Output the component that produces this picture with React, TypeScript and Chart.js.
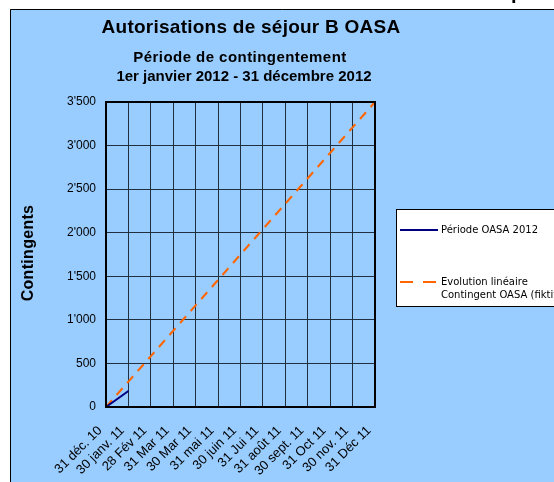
import { useEffect, useRef } from 'react';
import { Chart, registerables } from 'chart.js';
Chart.register(...registerables);

const categories = ['31 déc. 10', '30 janv. 11', '28 Fév 11', '31 Mar 11', '30 Mar 11', '31 mai 11', '30 juin 11', '31 Jui 11', '31 août 11', '30 sept. 11', '31 Oct 11', '30 nov. 11', '31 Déc 11'];
const periodeOASA = [0, 184];
const evolutionLineaire = [0, 292, 583, 875, 1167, 1458, 1750, 2042, 2333, 2625, 2917, 3208, 3500];
const yMin = 0;
const yMax = 3500;
const yStep = 500;
const mainTitle = 'Autorisations de séjour B OASA';
const subTitleLines = ['Période de contingentement', '1er janvier 2012 - 31 décembre 2012'];
const yAxisTitle = 'Contingents';
const seriesNames = ['Période OASA 2012', 'Evolution linéaire\nContingent OASA (fiktiv)'];
const cornerText = 'p';

const BG = '#99CCFF';
const FONT = '"Liberation Sans", Arial, sans-serif';

const fmt = (v: number) => {
  const s = String(Math.round(v));
  return s.length > 3 ? s.slice(0, -3) + "'" + s.slice(-3) : s;
};

const framePlugin = {
  id: 'frame',
  beforeDraw(chart: any) {
    const ctx = chart.ctx;
    ctx.save();
    ctx.fillStyle = '#ffffff';
    ctx.fillRect(0, 0, chart.width, chart.height);
    ctx.fillStyle = BG;
    ctx.fillRect(10, 9, chart.width, chart.height);
    ctx.strokeStyle = '#000';
    ctx.lineWidth = 1;
    ctx.beginPath();
    ctx.moveTo(10.5, chart.height);
    ctx.lineTo(10.5, 9.5);
    ctx.lineTo(chart.width, 9.5);
    ctx.stroke();
    ctx.restore();
  },
  afterDraw(chart: any) {
    const ctx = chart.ctx;
    const a = chart.chartArea;
    ctx.save();
    // plot border
    ctx.strokeStyle = '#000';
    ctx.lineWidth = 2;
    ctx.strokeRect(a.left, a.top, a.right - a.left, a.bottom - a.top);
    // titles
    ctx.fillStyle = '#000';
    ctx.textAlign = 'center';
    ctx.textBaseline = 'alphabetic';
    ctx.letterSpacing = '0.25px';
    ctx.font = `bold 19px ${FONT}`;
    ctx.fillText(mainTitle, 251, 33);
    ctx.font = `bold 15px ${FONT}`;
    ctx.letterSpacing = '0.45px';
    ctx.fillText(subTitleLines[0], 240, 62);
    ctx.letterSpacing = '0px';
    ctx.fillText(subTitleLines[1], 244, 81);
    // y title
    ctx.save();
    ctx.letterSpacing = '0.3px';
    ctx.translate(32.5, 253);
    ctx.rotate(-Math.PI / 2);
    ctx.font = `bold 16px ${FONT}`;
    ctx.fillText(yAxisTitle, 0, 0);
    ctx.restore();
    ctx.letterSpacing = '0px';
    // corner text
    ctx.textAlign = 'left';
    ctx.font = `bold 20px ${FONT}`;
    ctx.fillText(cornerText, 511, -1);
    // legend
    ctx.fillStyle = '#fff';
    ctx.fillRect(396, 209, 200, 97);
    ctx.strokeStyle = '#000';
    ctx.lineWidth = 1;
    ctx.strokeRect(396.5, 209.5, 200, 97);
    ctx.font = `10px "DejaVu Sans", sans-serif`;
    ctx.fillStyle = '#000';
    ctx.textBaseline = 'middle';
    ctx.strokeStyle = '#000080';
    ctx.lineWidth = 2;
    ctx.beginPath();
    ctx.moveTo(400, 230);
    ctx.lineTo(438, 230);
    ctx.stroke();
    ctx.fillText(seriesNames[0], 441, 230);
    ctx.strokeStyle = '#FF6600';
    ctx.setLineDash([13, 10]);
    ctx.beginPath();
    ctx.moveTo(400, 282);
    ctx.lineTo(438, 282);
    ctx.stroke();
    ctx.setLineDash([]);
    const lines = seriesNames[1].split('\n');
    ctx.fillText(lines[0], 441, 282);
    ctx.fillText(lines[1], 441, 295);
    ctx.restore();
  },
};

export default function App() {
  const ref = useRef<HTMLCanvasElement>(null);
  useEffect(() => {
    const chart = new Chart(ref.current!, {
      type: 'line',
      data: {
        labels: categories,
        datasets: [
          {
            label: seriesNames[0],
            data: periodeOASA,
            borderColor: '#000080',
            borderWidth: 2,
            pointRadius: 0,
            tension: 0,
          },
          {
            label: seriesNames[1],
            data: evolutionLineaire,
            borderColor: '#FF6600',
            borderWidth: 2,
            borderDash: [9, 7],
            pointRadius: 0,
            tension: 0,
          },
        ],
      },
      options: {
        responsive: false,
        animation: false,
        devicePixelRatio: 1,
        layout: { padding: { left: 0, top: 102, right: 179, bottom: 0 } },
        plugins: { legend: { display: false }, title: { display: false }, tooltip: { enabled: false } },
        scales: {
          x: {
            type: 'category',
            offset: false,
            afterFit: (s: any) => { s.height = 75; },
            grid: { color: '#1f2f40', lineWidth: 1, drawTicks: false },
            border: { display: true, color: '#000', width: 2 },
            ticks: {
              autoSkip: false,
              minRotation: 45,
              maxRotation: 45,
              padding: 16,
              labelOffset: -6,
              color: '#000',
              font: { family: FONT, size: 13 },
            },
          },
          y: {
            min: yMin,
            max: yMax,
            afterFit: (s: any) => { s.width = 106; },
            grid: { color: '#1f2f40', lineWidth: 1, drawTicks: false },
            border: { display: true, color: '#000', width: 2 },
            ticks: {
              stepSize: yStep,
              padding: 10,
              color: '#000',
              font: { family: FONT, size: 12 },
              callback: (v: any) => fmt(Number(v)),
            },
          },
        },
      },
      plugins: [framePlugin],
    });
    return () => chart.destroy();
  }, []);
  return (
    <div style={{ position: 'fixed', left: 0, top: 0, width: 554, height: 482, background: '#fff' }}>
      <canvas ref={ref} width={554} height={482} style={{ display: 'block', width: 554, height: 482 }} />
    </div>
  );
}
